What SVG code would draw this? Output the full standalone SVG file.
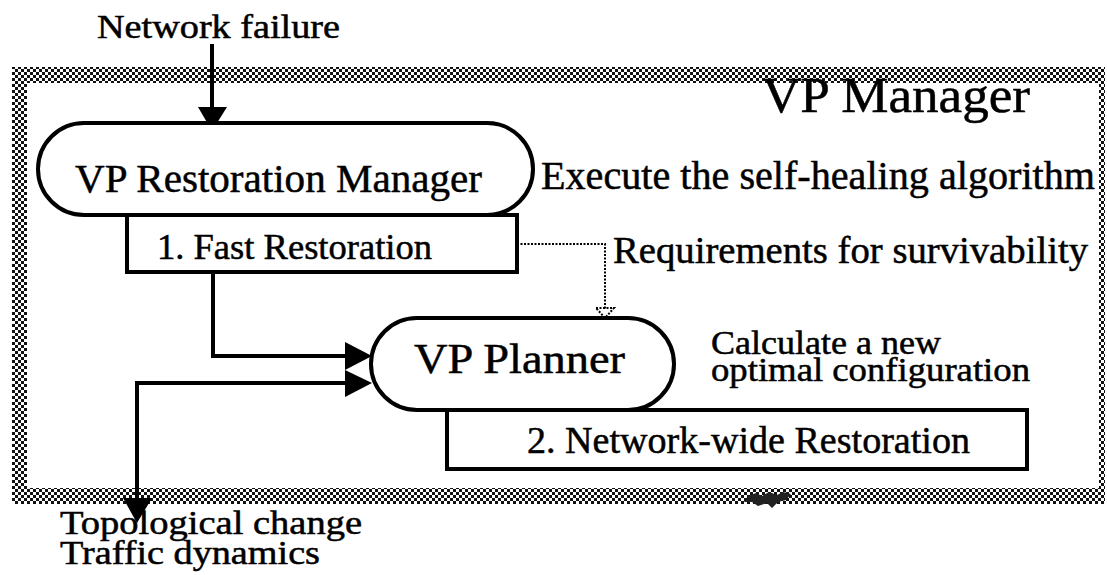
<svg xmlns="http://www.w3.org/2000/svg" width="1107" height="575" viewBox="0 0 1107 575">
<defs>
<pattern id="chk" width="6" height="6" patternUnits="userSpaceOnUse">
<rect width="6" height="6" fill="#fff"/>
<rect x="0" y="0" width="3" height="3" fill="#111"/>
<rect x="3" y="3" width="3" height="3" fill="#111"/>
</pattern>
</defs>
<style>
.t{font-family:"Liberation Serif","Times New Roman",serif;fill:#000;stroke:#000;stroke-width:0.5}
.node{fill:#fff;stroke:#000;stroke-width:4}
.ln{fill:none;stroke:#000;stroke-width:4}
.dot{fill:none;stroke:#000;stroke-width:2;stroke-dasharray:2 1.5}
.hd{fill:#000}
</style>
<rect width="1107" height="575" fill="#fff"/>
<g id="frame">
<path fill="url(#chk)" fill-rule="evenodd" d="M12 67 H1105 V504 H12 Z M27 83 V488 H1099 V83 Z"/>
<path d="M748 496 l8 -3 l6 3 l7 -4 l8 3 l6 -3 l8 2 l-5 6 l-8 2 l-6 6 l-5 -5 l-9 3 l-6 -4 l-8 0 z" fill="#222"/>
<text class="t" x="762" y="112" font-size="50" textLength="268" lengthAdjust="spacingAndGlyphs">VP Manager</text>
</g>
<g id="network-failure">
<text class="t" x="97" y="38" font-size="33" textLength="243" lengthAdjust="spacingAndGlyphs">Network failure</text>
</g>
<g id="connectors">
<line class="ln" x1="212" y1="44" x2="212" y2="110"/>
<polygon class="hd" points="198,107 227,107 212,131"/>
<path class="dot" d="M517 244 H605 V309"/>
<path d="M596 308 L614 308 L605 318 Z" fill="none" stroke="#000" stroke-width="2" stroke-dasharray="2 1.5"/>
<path class="ln" d="M213 272 V356 H350"/>
<polygon class="hd" points="345,342 372,356 345,370"/>
<path class="ln" d="M137 500 V383 H350"/>
<polygon class="hd" points="345,370 372,383 345,397"/>
<polygon class="hd" points="123,498 152,498 137,523"/>
</g>
<g id="restoration-manager">
<rect class="node" x="38" y="123" width="495" height="92" rx="46"/>
<text class="t" x="75" y="192" font-size="41" textLength="407" lengthAdjust="spacingAndGlyphs">VP Restoration Manager</text>
<text class="t" x="541" y="189" font-size="39" textLength="554" lengthAdjust="spacingAndGlyphs">Execute the self-healing algorithm</text>
</g>
<g id="fast-restoration">
<rect class="node" x="127" y="215" width="390" height="57"/>
<text class="t" x="157" y="259" font-size="36" textLength="275" lengthAdjust="spacingAndGlyphs">1. Fast Restoration</text>
<text class="t" x="613" y="263" font-size="38" textLength="475" lengthAdjust="spacingAndGlyphs">Requirements for survivability</text>
</g>
<g id="planner">
<rect class="node" x="371" y="318" width="303" height="92" rx="46"/>
<text class="t" x="414" y="373" font-size="42" textLength="211" lengthAdjust="spacingAndGlyphs">VP Planner</text>
<text class="t" x="711" y="354" font-size="33" textLength="230" lengthAdjust="spacingAndGlyphs">Calculate a new</text>
<text class="t" x="711" y="381" font-size="33" textLength="319" lengthAdjust="spacingAndGlyphs">optimal configuration</text>
</g>
<g id="network-wide-restoration">
<rect class="node" x="447" y="410" width="580" height="59"/>
<text class="t" x="527" y="453" font-size="38" textLength="443" lengthAdjust="spacingAndGlyphs">2. Network-wide Restoration</text>
</g>
<g id="external-input">
<text class="t" x="60" y="534" font-size="33" textLength="302" lengthAdjust="spacingAndGlyphs">Topological change</text>
<text class="t" x="60" y="564" font-size="33" textLength="260" lengthAdjust="spacingAndGlyphs">Traffic dynamics</text>
</g>
</svg>
